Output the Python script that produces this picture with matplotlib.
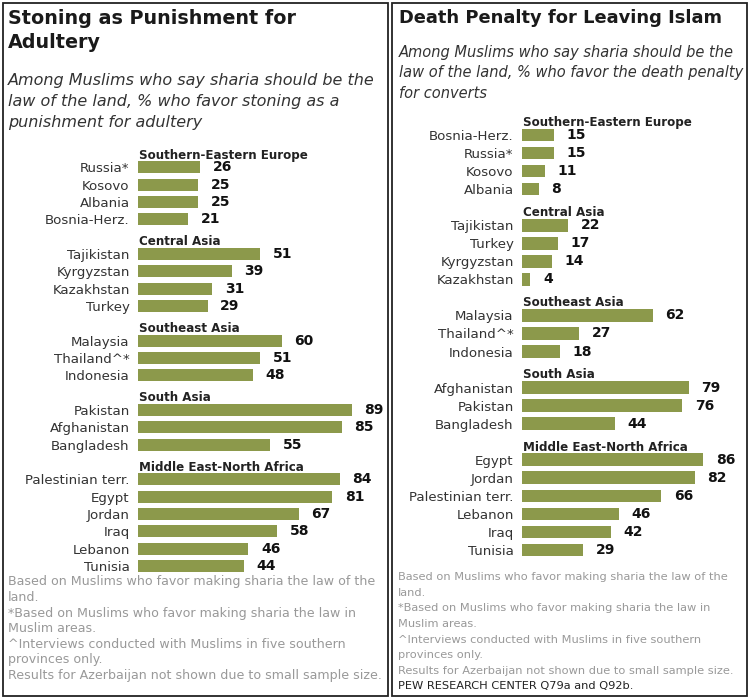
import matplotlib
matplotlib.use("Agg")
import matplotlib.pyplot as plt
from matplotlib.patches import Rectangle

# data
stoning_groups = ["Southern-Eastern Europe", "Central Asia", "Southeast Asia",
                  "South Asia", "Middle East-North Africa"]
stoning_countries = [
    ["Russia*", "Kosovo", "Albania", "Bosnia-Herz."],
    ["Tajikistan", "Kyrgyzstan", "Kazakhstan", "Turkey"],
    ["Malaysia", "Thailand^*", "Indonesia"],
    ["Pakistan", "Afghanistan", "Bangladesh"],
    ["Palestinian terr.", "Egypt", "Jordan", "Iraq", "Lebanon", "Tunisia"],
]
stoning_values = [
    [26, 25, 25, 21],
    [51, 39, 31, 29],
    [60, 51, 48],
    [89, 85, 55],
    [84, 81, 67, 58, 46, 44],
]

death_groups = ["Southern-Eastern Europe", "Central Asia", "Southeast Asia",
                "South Asia", "Middle East-North Africa"]
death_countries = [
    ["Bosnia-Herz.", "Russia*", "Kosovo", "Albania"],
    ["Tajikistan", "Turkey", "Kyrgyzstan", "Kazakhstan"],
    ["Malaysia", "Thailand^*", "Indonesia"],
    ["Afghanistan", "Pakistan", "Bangladesh"],
    ["Egypt", "Jordan", "Palestinian terr.", "Lebanon", "Iraq", "Tunisia"],
]
death_values = [
    [15, 15, 11, 8],
    [22, 17, 14, 4],
    [62, 27, 18],
    [79, 76, 44],
    [86, 82, 66, 46, 42, 29],
]

footnotes = [
    "Based on Muslims who favor making sharia the law of the",
    "land.",
    "*Based on Muslims who favor making sharia the law in",
    "Muslim areas.",
    "^Interviews conducted with Muslims in five southern",
    "provinces only.",
    "Results for Azerbaijan not shown due to small sample size.",
]

W, H = 750, 699
BAR = "#8c994b"
plt.rcParams['font.family'] = ['DejaVu Sans']

fig = plt.figure(figsize=(W / 100, H / 100), dpi=100)


def fx(x):
    return x / W


def fy(y):
    return 1 - y / H


def draw_panel(groups, countries, values, x0, px_per_unit, top_slot, slot_px):
    # slot positions: each group takes one header slot, then one per country
    ypos, labels, vals, heads = [], [], [], []
    slot = 0
    for g, cs, vs in zip(groups, countries, values):
        heads.append((g, slot))
        slot += 1
        for c, v in zip(cs, vs):
            ypos.append(slot)
            labels.append(c)
            vals.append(v)
            slot += 1
    n = slot
    width_units = 100
    top = top_slot - slot_px * 0.5
    bottom = top_slot + slot_px * (n - 0.5)
    ax = fig.add_axes([fx(x0), fy(bottom), width_units * px_per_unit / W,
                       (bottom - top) / H])
    ax.barh(ypos, vals, height=0.7, color=BAR)
    ax.set_xlim(0, width_units)
    ax.set_ylim(n - 0.5, -0.5)
    ax.set_yticks(ypos, labels)
    ax.tick_params(axis='y', length=0, pad=6, labelsize=9.6, labelcolor="#333333")
    ax.set_xticks([])
    for s in ax.spines.values():
        s.set_visible(False)
    ax.patch.set_alpha(0)
    for y, v in zip(ypos, vals):
        ax.annotate(str(v), (v, y), xytext=(9, 0), textcoords="offset points",
                    ha="left", va="center", fontsize=10, fontweight="bold",
                    color="#111111")
    for g, s in heads:
        ax.text(0.4, s + 0.3, g, ha="left", va="center", fontsize=8.6,
                fontweight="bold", color="#222222")
    return ax


draw_panel(stoning_groups, stoning_countries, stoning_values,
           138, 2.40, 150, 17.33)
draw_panel(death_groups, death_countries, death_values,
           522, 2.11, 117, 18.04)

# panel borders
for x0, x1 in [(3, 388), (392, 747)]:
    fig.patches.append(Rectangle((fx(x0), fy(696)), fx(x1) - fx(x0), fy(3) - fy(696),
                                 transform=fig.transFigure, fill=False,
                                 edgecolor="#222222", linewidth=1.3))

# titles
fig.text(fx(8), fy(18), "Stoning as Punishment for", fontsize=13.8,
         fontweight="bold", va="center", color="#1a1a1a")
fig.text(fx(8), fy(43), "Adultery", fontsize=13.8, fontweight="bold",
         va="center", color="#1a1a1a")
for i, line in enumerate(["Among Muslims who say sharia should be the",
                          "law of the land, % who favor stoning as a",
                          "punishment for adultery"]):
    fig.text(fx(8), fy(80 + i * 21.5), line, fontsize=11.5, style="italic",
             va="center", color="#333333")

fig.text(fx(399), fy(18), "Death Penalty for Leaving Islam", fontsize=12.9,
         fontweight="bold", va="center", color="#1a1a1a")
for i, line in enumerate(["Among Muslims who say sharia should be the",
                          "law of the land, % who favor the death penalty",
                          "for converts"]):
    fig.text(fx(399), fy(52 + i * 20.5), line, fontsize=10.5, style="italic",
             va="center", color="#333333")

# footnotes
for i, line in enumerate(footnotes):
    fig.text(fx(8), fy(582 + i * 15.5), line, fontsize=9.1, va="center",
             color="#999999")
    fig.text(fx(398), fy(577 + i * 15.7), line, fontsize=8.2, va="center",
             color="#999999")
fig.text(fx(398), fy(686), "PEW RESEARCH CENTER Q79a and Q92b.", fontsize=8.2,
         va="center", color="#222222")

fig.savefig("out.png", dpi=100)
